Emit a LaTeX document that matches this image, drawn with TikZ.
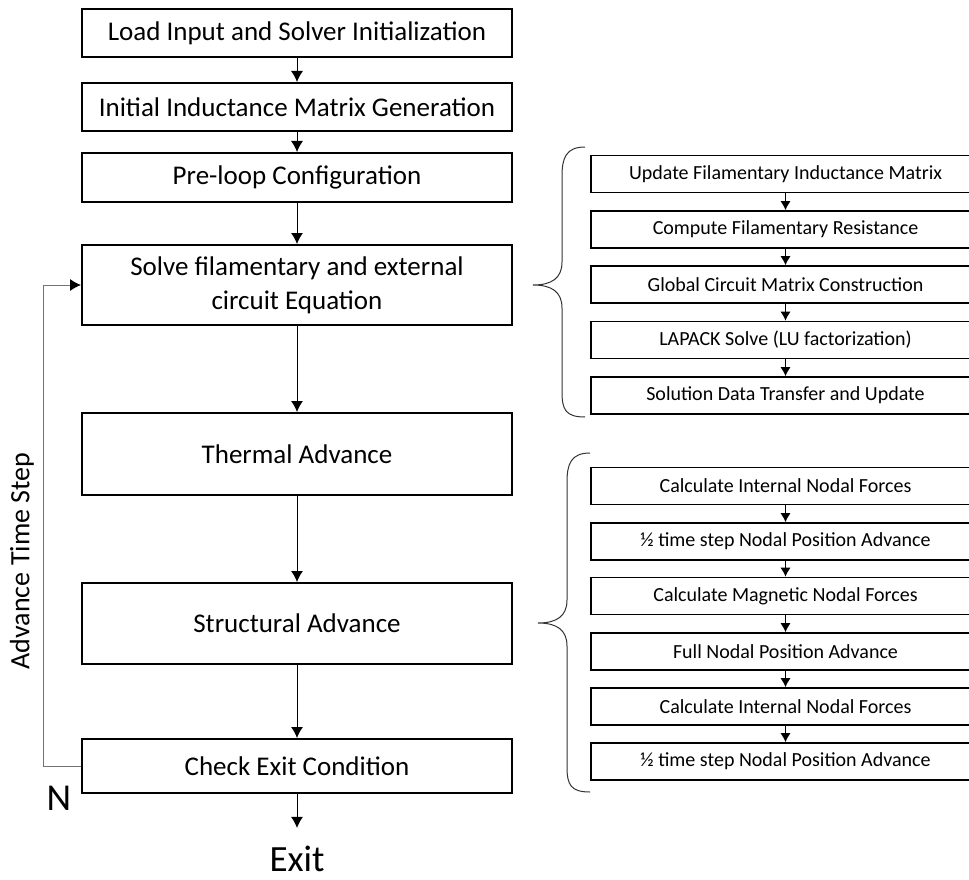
\documentclass[tikz,border=0pt]{standalone}
\usepackage{fontspec}
\setmainfont{Carlito}
\usetikzlibrary{arrows.meta,positioning,calc}
\tikzset{>={Latex[length=11pt,width=12pt]}}
\tikzset{
  box/.style={draw, line width=2pt, minimum width=430pt, inner sep=0pt, align=center,
    font=\fontsize{27}{34}\selectfont},
  sbox/.style={draw, line width=1.6pt, minimum width=389pt, minimum height=37pt, inner sep=0pt,
    font=\fontsize{20}{24}\selectfont},
  sarr/.style={-{Latex[length=9pt,width=10pt]}, line width=1pt},
  brace/.style={line width=1pt, black!80}
}

\begin{document}
\begin{tikzpicture}[x=1pt,y=-1pt]
\useasboundingbox (0,0) rectangle (969,880);
% main column
\node[box, minimum height=48pt] (load) at (297,33) {Load Input and Solver Initialization};
\node[box, minimum height=48pt] (ind) at (297,107) {Initial Inductance Matrix Generation};
\node[box, minimum height=49pt] (pre) at (297,177.5) {Pre-loop Configuration};
\node[box, minimum height=80pt] (solve) at (297,285) {Solve filamentary and external\\circuit Equation};
\node[box, minimum height=82pt] (therm) at (297,454) {Thermal Advance};
\node[box, minimum height=81pt] (struc) at (297,623.5) {Structural Advance};
\node[box, minimum height=54pt] (check) at (297,766) {Check Exit Condition};
\node[inner sep=1pt, font=\fontsize{37}{44}\selectfont] (exit) at (297,859) {Exit};
\node[font=\fontsize{38}{44}\selectfont] (n) at (59,798) {N};
\node[rotate=90, font=\fontsize{28}{32}\selectfont] (adv) at (22,561) {Advance Time Step};
% circuit solve steps
\node[sbox] (u1) at (785.5,174) {Update Filamentary Inductance Matrix};
\node[sbox] (u2) at (785.5,229.5) {Compute Filamentary Resistance};
\node[sbox] (u3) at (785.5,284.5) {Global Circuit Matrix Construction};
\node[sbox] (u4) at (785.5,340) {LAPACK Solve (LU factorization)};
\node[sbox] (u5) at (785.5,395.5) {Solution Data Transfer and Update};
% structural steps
\node[sbox] (s1) at (785.5,486) {Calculate Internal Nodal Forces};
\node[sbox] (s2) at (785.5,541.5) {½ time step Nodal Position Advance};
\node[sbox] (s3) at (785.5,596) {Calculate Magnetic Nodal Forces};
\node[sbox] (s4) at (785.5,651.5) {Full Nodal Position Advance};
\node[sbox] (s5) at (785.5,706.5) {Calculate Internal Nodal Forces};
\node[sbox] (s6) at (785.5,761.5) {½ time step Nodal Position Advance};
\begin{scope}[line width = 1pt]
\draw[->] (load) to (ind);
\draw[->] (ind) to (pre);
\draw[->] (pre) to (solve);
\draw[->] (solve) to (therm);
\draw[->] (therm) to (struc);
\draw[->] (struc) to (check);
\draw[->, shorten >=17pt] (check) to (exit);
\draw[-{Latex[length=11pt,width=12pt,color=black]}, black!55] (check.west) -- ++(-38,0) |- (solve.west);
\end{scope}
\draw[sarr] (u1) to (u2);
\draw[sarr] (u2) to (u3);
\draw[sarr] (u3) to (u4);
\draw[sarr] (u4) to (u5);
\draw[sarr] (s1) to (s2);
\draw[sarr] (s2) to (s3);
\draw[sarr] (s3) to (s4);
\draw[sarr] (s4) to (s5);
\draw[sarr] (s5) to (s6);
% braces
\draw[brace] (585,147) .. controls (566,147) and (562,158) .. (562,176) -- (562,262)
  .. controls (562,278) and (552,285) .. (533,285)
  .. controls (552,285) and (562,292) .. (562,308) -- (562,392)
  .. controls (562,410) and (566,417) .. (585,417);
\draw[brace] (590,453) .. controls (571,453) and (567,464) .. (567,482) -- (567,600)
  .. controls (567,616) and (557,623) .. (538,623)
  .. controls (557,623) and (567,630) .. (567,646) -- (567,767)
  .. controls (567,785) and (571,792) .. (590,792);
%\draw[help lines] (0,0) grid (969,880);
\end{tikzpicture}
\end{document}
